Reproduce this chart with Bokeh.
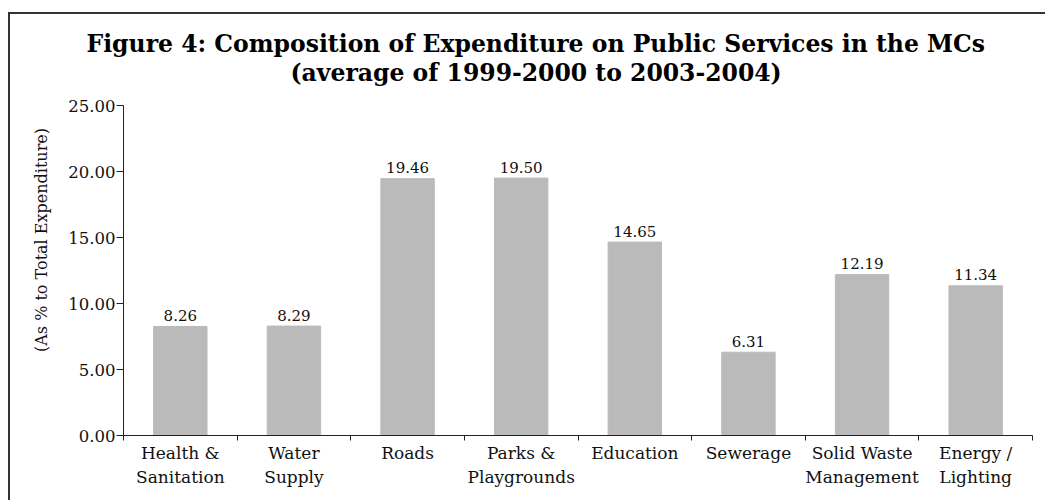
from bokeh.plotting import figure
from bokeh.models import ColumnDataSource, FixedTicker, NumeralTickFormatter, Title, Range1d
from bokeh.embed import file_html
from bokeh.resources import INLINE
from bokeh.core.properties import value

categories = ["Health &\nSanitation", "Water\nSupply", "Roads", "Parks &\nPlaygrounds",
              "Education", "Sewerage", "Solid Waste\nManagement", "Energy /\nLighting"]
values = [8.26, 8.29, 19.46, 19.50, 14.65, 6.31, 12.19, 11.34]
y_ticks = [0, 5, 10, 15, 20, 25]
title_line1 = "Figure 4: Composition of Expenditure on Public Services in the MCs"
title_line2 = "(average of 1999-2000 to 2003-2004)"
y_label = "(As % to Total Expenditure)"

FONT = "DejaVu Serif"
INK = "#111111"

xs = [i + 0.5 for i in range(len(categories))]
src = ColumnDataSource(dict(x=xs, top=values, lab=["%.2f" % v for v in values]))

p = figure(width=1037, height=488, output_backend="svg", toolbar_location=None,
           x_range=Range1d(0, len(categories)), y_range=Range1d(0, 25),
           min_border_left=113, min_border_right=15, min_border_bottom=67, min_border_top=91,
           margin=(12, 0, 0, 8))
p.styles = {"border-top": "2px solid #333", "border-left": "2px solid #333"}

p.title.text = title_line1
p.title.align = "left"
p.title.text_font = FONT
p.title.text_font_size = "23.5px"
p.title.text_font_style = "bold"
p.title.text_color = "#000000"
p.title.offset = -37
p.title.standoff = -41
t2 = Title(text=title_line2, align="left", text_font=FONT, text_font_size="23.5px",
           text_font_style="bold", text_color="#000000", offset=167, standoff=38,
           text_line_height=0.9)
p.add_layout(t2, "above")

p.vbar(x="x", top="top", width=0.47, bottom=0, source=src, color="#bababa")
p.text(x="x", y="top", text="lab", source=src, text_align="center", text_baseline="alphabetic",
       y_offset=-11, text_font=value(FONT), text_font_size="15px", text_color=INK)

p.xgrid.visible = False
p.ygrid.visible = False
p.outline_line_color = None

xa = p.xaxis[0]
xa.ticker = FixedTicker(ticks=xs, minor_ticks=list(range(len(categories) + 1)))
xa.major_label_overrides = {x: c for x, c in zip(xs, categories)}
xa.major_tick_out = 0
xa.major_tick_in = 0
xa.minor_tick_out = 5
xa.minor_tick_in = 0
xa.major_label_text_font = FONT
xa.major_label_text_font_size = "17px"
xa.major_label_text_color = INK
xa.major_label_standoff = 2
xa.axis_line_color = "#222"
xa.minor_tick_line_color = "#222"

ya = p.yaxis[0]
ya.ticker = FixedTicker(ticks=y_ticks, minor_ticks=[])
ya.formatter = NumeralTickFormatter(format="0.00")
ya.major_tick_out = 7
ya.major_tick_in = 0
ya.major_label_text_font = FONT
ya.major_label_text_font_size = "16.5px"
ya.major_label_text_color = INK
ya.major_label_standoff = 1
ya.axis_line_color = "#222"
ya.major_tick_line_color = "#222"
ya.axis_label = "\u00a0" * 12 + y_label
ya.axis_label_text_font = FONT
ya.axis_label_text_font_size = "16px"
ya.axis_label_text_font_style = "normal"
ya.axis_label_text_color = INK
ya.axis_label_standoff = 14

open("out.html", "w").write(file_html(p, INLINE))
